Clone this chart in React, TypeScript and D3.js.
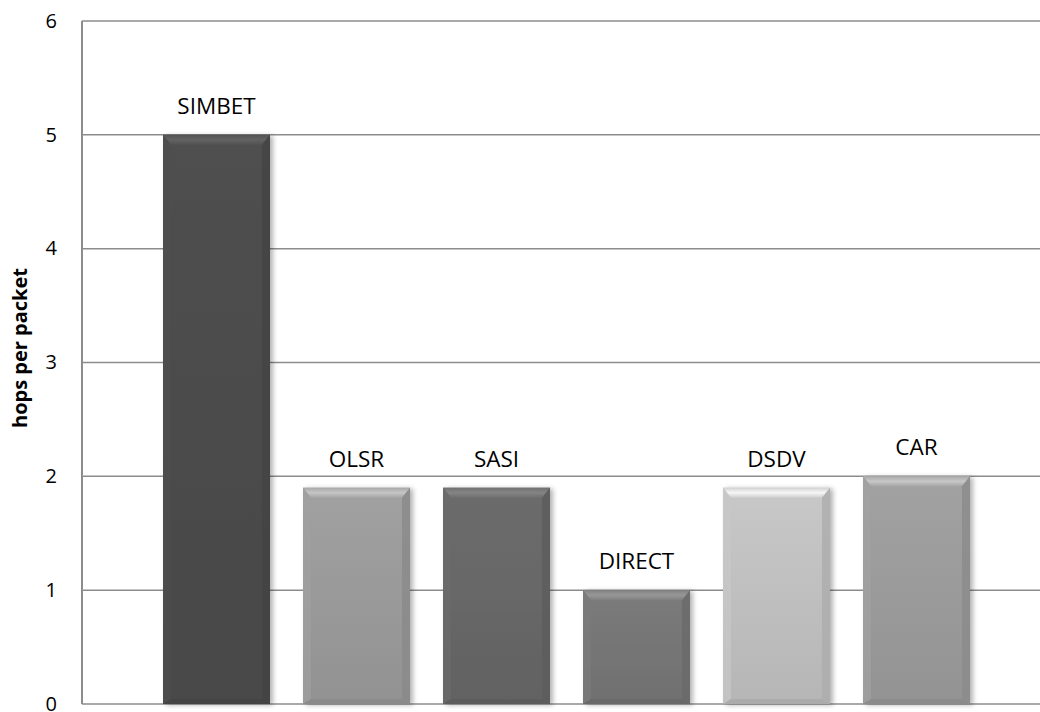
import React from "react";
import * as d3 from "d3";

const seriesNames = ["SIMBET", "OLSR", "SASI", "DIRECT", "DSDV", "CAR"];
const hopsPerPacket = [5.0, 1.9, 1.9, 1.0, 1.9, 2.0];
const barColors = ["#4c4c4c", "#9a9a9a", "#676767", "#767676", "#c0c0c0", "#9b9b9b"];
const yTicks = [0, 1, 2, 3, 4, 5, 6];
const yTitle = "hops per packet";

const W = 1040;
const H = 712;
const left = 82;
const top = 21;
const bottom = 704;
const right = 1050;

export default function App() {
  const y = d3.scaleLinear().domain([0, 6]).range([bottom, top]);
  const x = d3
    .scaleBand<string>()
    .domain(seriesNames)
    .range([146.5, 986.5])
    .paddingInner(0.236)
    .paddingOuter(0.118);
  const bw = x.bandwidth();

  return (
    <svg
      width={W}
      height={H}
      style={{ position: "absolute", left: 0, top: 0, background: "#fff" }}
    >
      <defs>
        <filter id="shadow" x="-20%" y="-10%" width="140%" height="120%">
          <feDropShadow dx="3" dy="1" stdDeviation="2.5" floodColor="#000" floodOpacity="0.3" />
        </filter>
        {barColors.map((c, i) => {
          const base = d3.color(c)!;
          return (
            <linearGradient key={i} id={`face${i}`} x1="0" y1="0" x2="0" y2="1">
              <stop offset="0" stopColor={d3.color(c)!.brighter(0.12).formatHex()} />
              <stop offset="1" stopColor={base.darker(0.15).formatHex()} />
            </linearGradient>
          );
        })}
        {barColors.map((c, i) => (
          <linearGradient key={"t" + i} id={`topb${i}`} x1="0" y1="0" x2="0" y2="1">
            <stop offset="0" stopColor={d3.color(c)!.brighter(0.25).formatHex()} />
            <stop offset="0.5" stopColor={d3.color(c)!.brighter(0.7).formatHex()} />
            <stop offset="1" stopColor={d3.color(c)!.brighter(0.2).formatHex()} />
          </linearGradient>
        ))}
      </defs>

      {/* gridlines */}
      {yTicks.map((t) => (
        <line
          key={t}
          x1={left}
          x2={right}
          y1={y(t)}
          y2={y(t)}
          stroke="#8c8c8c"
          strokeWidth={1.5}
        />
      ))}
      {/* left axis */}
      <line x1={left} x2={left} y1={top} y2={bottom} stroke="#8c8c8c" strokeWidth={2} />

      {/* tick labels */}
      {yTicks.map((t) => (
        <text
          key={t}
          x={57}
          y={y(t)}
          dy="0.34em"
          textAnchor="end"
          fontFamily="'Open Sans', sans-serif"
          fontSize={20}
          fill="#000"
        >
          {t}
        </text>
      ))}

      {/* axis title */}
      <text
        transform={`translate(27, 348) rotate(-90)`}
        textAnchor="middle"
        fontFamily="'Open Sans', sans-serif"
        fontWeight="bold"
        fontSize={20}
        fill="#000"
      >
        {yTitle}
      </text>

      {/* bars */}
      {seriesNames.map((name, i) => {
        const x0 = x(name)!;
        const x1 = x0 + bw;
        const y0 = y(hopsPerPacket[i]);
        const y1 = y(0);
        const b = 8;
        const bb = 5;
        const c = barColors[i];
        const leftC = d3.color(c)!.brighter(0.1).formatHex();
        const rightC = d3.color(c)!.darker(0.3).formatHex();
        const botC = d3.color(c)!.darker(0.35).formatHex();
        return (
          <g key={name}>
            <rect x={x0} y={y0} width={bw} height={y1 - y0} fill={`url(#face${i})`} filter="url(#shadow)" />
            {/* top bevel */}
            <polygon
              points={`${x0},${y0} ${x1},${y0} ${x1 - b},${y0 + b + 2} ${x0 + b},${y0 + b + 2}`}
              fill={`url(#topb${i})`}
            />
            {/* left bevel */}
            <polygon
              points={`${x0},${y0} ${x0 + b},${y0 + b + 2} ${x0 + b},${y1 - bb} ${x0},${y1}`}
              fill={leftC}
              opacity={0.7}
            />
            {/* right bevel */}
            <polygon
              points={`${x1},${y0} ${x1 - b},${y0 + b + 2} ${x1 - b},${y1 - bb} ${x1},${y1}`}
              fill={rightC}
              opacity={0.8}
            />
            {/* bottom bevel */}
            <polygon
              points={`${x0},${y1} ${x0 + b},${y1 - bb} ${x1 - b},${y1 - bb} ${x1},${y1}`}
              fill={botC}
              opacity={0.8}
            />
            <text
              x={x0 + bw / 2}
              y={y0 - 21}
              textAnchor="middle"
              fontFamily="'Open Sans', sans-serif"
              fontSize={22.5}
              fill="#000"
            >
              {name}
            </text>
          </g>
        );
      })}
    </svg>
  );
}
